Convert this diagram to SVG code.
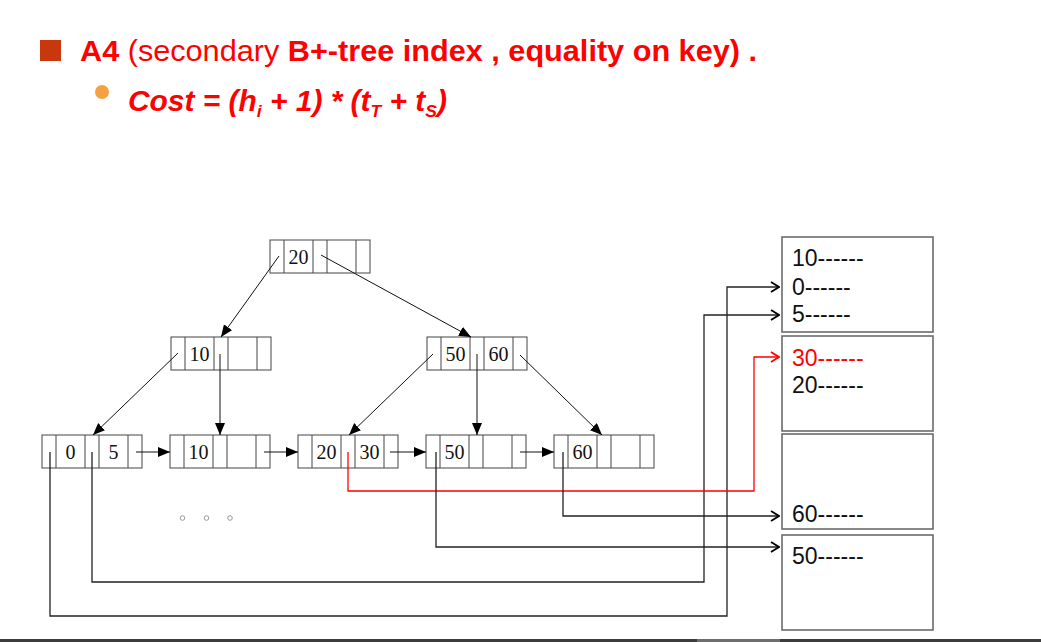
<svg xmlns="http://www.w3.org/2000/svg" width="1041" height="642" viewBox="0 0 1041 642">
<style>
.nb{fill:#fff;stroke:#444;stroke-width:1}
.dv{stroke:#444;stroke-width:1}
.k{font-family:"Liberation Serif","Times New Roman",serif;font-size:20px;fill:#111;text-anchor:middle}
.tr{fill:none;stroke:#111;stroke-width:1}
.dp{fill:none;stroke:#222;stroke-width:1.3}
.dr{fill:none;stroke:#f00;stroke-width:1.3}
.rb{fill:#fff;stroke:#6b6b6b;stroke-width:1.6}
.rt{font-family:"Liberation Sans",Arial,sans-serif;font-size:23px;fill:#111}
.red{fill:#f00}
.title{font-family:"Liberation Sans",Arial,sans-serif;font-size:29px;fill:#f00}
</style>
<defs>
<marker id="tri" viewBox="0 0 12 10" markerWidth="12" markerHeight="10" refX="12" refY="5" orient="auto" markerUnits="userSpaceOnUse"><path d="M0,0 L12,5 L0,10 z" fill="#000"/></marker>
<marker id="chev" viewBox="0 0 10 12" markerWidth="10" markerHeight="12" refX="9" refY="6" orient="auto" markerUnits="userSpaceOnUse"><path d="M1,1 L9,6 L1,11" fill="none" stroke="#000" stroke-width="1.8"/></marker>
<marker id="chevr" viewBox="0 0 10 12" markerWidth="10" markerHeight="12" refX="9" refY="6" orient="auto" markerUnits="userSpaceOnUse"><path d="M1,1 L9,6 L1,11" fill="none" stroke="#f00" stroke-width="1.8"/></marker>
<g id="nodeshape">
<rect class="nb" x="0" y="0" width="100" height="33"/>
<path class="dv" d="M14,0V33M43,0V33M57,0V33M86,0V33"/>
</g>
</defs>

<g id="header">
<rect x="40" y="40" width="21" height="21" fill="#c8380c"/>
<text class="title" x="80" y="61" textLength="677" lengthAdjust="spacingAndGlyphs"><tspan font-weight="bold">A4</tspan> (secondary <tspan font-weight="bold">B+-tree index , equality on key) .</tspan></text>
<circle cx="102" cy="92" r="7" fill="#f5a142"/>
<text class="title" x="128" y="111" font-weight="bold" font-style="italic" textLength="319" lengthAdjust="spacingAndGlyphs">Cost = (h<tspan font-size="17" dy="6">i</tspan><tspan dy="-6"> + 1) * (t</tspan><tspan font-size="17" dy="6">T</tspan><tspan dy="-6"> + t</tspan><tspan font-size="17" dy="6">S</tspan><tspan dy="-6">)</tspan></text>
</g>

<g id="root"><use href="#nodeshape" x="270" y="240"/><text class="k" x="298.5" y="264">20</text></g>
<g id="n10"><use href="#nodeshape" x="171" y="337"/><text class="k" x="199.5" y="361">10</text></g>
<g id="n5060"><use href="#nodeshape" x="427" y="337"/><text class="k" x="455.5" y="361">50</text><text class="k" x="498.5" y="361">60</text></g>
<g id="leaf1"><use href="#nodeshape" x="42" y="435"/><text class="k" x="70.5" y="459">0</text><text class="k" x="113.5" y="459">5</text></g>
<g id="leaf2"><use href="#nodeshape" x="170" y="435"/><text class="k" x="198.5" y="459">10</text></g>
<g id="leaf3"><use href="#nodeshape" x="298" y="435"/><text class="k" x="326.5" y="459">20</text><text class="k" x="369.5" y="459">30</text></g>
<g id="leaf4"><use href="#nodeshape" x="426" y="435"/><text class="k" x="454.5" y="459">50</text></g>
<g id="leaf5"><use href="#nodeshape" x="554" y="435"/><text class="k" x="582.5" y="459">60</text></g>

<g id="dots" fill="none" stroke="#999" stroke-width="1">
<circle cx="182.5" cy="518" r="2.3"/><circle cx="206.5" cy="518" r="2.3"/><circle cx="230" cy="518" r="2.3"/>
</g>

<g id="rec1"><rect class="rb" x="782" y="237" width="151" height="95"/>
<text class="rt" x="792" y="266">10------</text><text class="rt" x="792" y="295">0------</text><text class="rt" x="792" y="322">5------</text></g>
<g id="rec2"><rect class="rb" x="782" y="336" width="151" height="95"/>
<text class="rt red" x="792" y="366">30------</text><text class="rt" x="792" y="393">20------</text></g>
<g id="rec3"><rect class="rb" x="782" y="434" width="151" height="95"/>
<text class="rt" x="792" y="522">60------</text></g>
<g id="rec4"><rect class="rb" x="782" y="535" width="151" height="95"/>
<text class="rt" x="792" y="564">50------</text></g>

<g id="connectors">
<path class="tr" d="M279,256 L221,337" marker-end="url(#tri)"/>
<path class="tr" d="M321,255 L471,337" marker-end="url(#tri)"/>
<path class="tr" d="M178,353 L93,435" marker-end="url(#tri)"/>
<path class="tr" d="M220,354 L220,435" marker-end="url(#tri)"/>
<path class="tr" d="M433,354 L349,435" marker-end="url(#tri)"/>
<path class="tr" d="M477,354 L477,435" marker-end="url(#tri)"/>
<path class="tr" d="M520,355 L602,435" marker-end="url(#tri)"/>
<path class="tr" d="M136,452 L170,452" marker-end="url(#tri)"/>
<path class="tr" d="M264,452 L298,452" marker-end="url(#tri)"/>
<path class="tr" d="M390,452 L426,452" marker-end="url(#tri)"/>
<path class="tr" d="M520,452 L554,452" marker-end="url(#tri)"/>
<path class="dp" d="M50,452 V616 H727 V287 H779" marker-end="url(#chev)"/>
<path class="dp" d="M92,452 V582 H704 V315 H779" marker-end="url(#chev)"/>
<path class="dr" d="M348,452 V491 H754 V357 H779" marker-end="url(#chevr)"/>
<path class="dp" d="M436,452 V547 H779" marker-end="url(#chev)"/>
<path class="dp" d="M563,452 V516 H779" marker-end="url(#chev)"/>
</g>

<g id="footer">
<rect x="0" y="639" width="1041" height="3" fill="#3c3c3c"/>
<rect x="697" y="639" width="83" height="3" fill="#6e6e6e"/>
</g>
</svg>
